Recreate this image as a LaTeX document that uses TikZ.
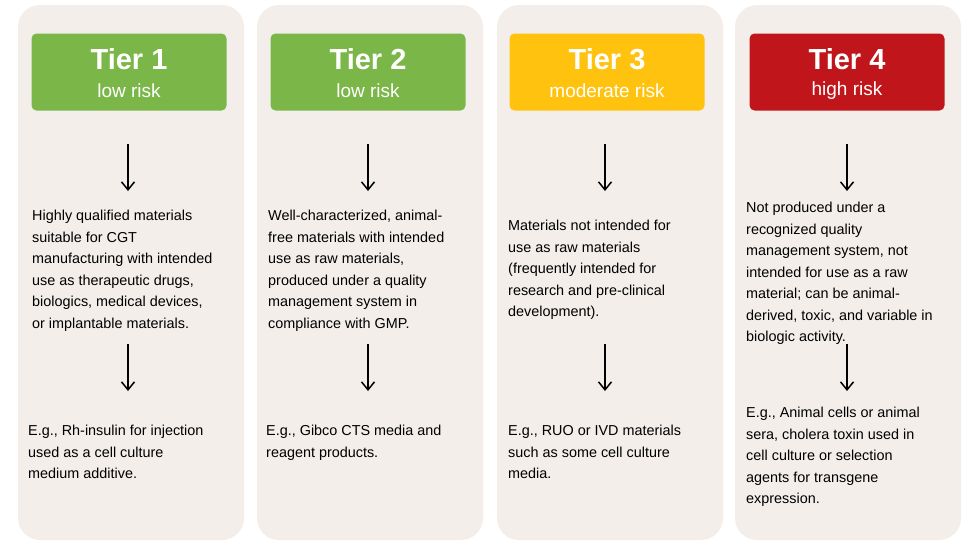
\documentclass[tikz,border=0pt]{standalone}
\usepackage{fontspec}
\setmainfont{Liberation Sans}
\usetikzlibrary{arrows.meta}
\begin{document}
\begin{tikzpicture}[x=1pt,y=-1pt,
  head/.style={rounded corners=5pt,draw=none,minimum width=195pt,minimum height=77pt,inner sep=0pt},
  tt/.style={text=white,inner sep=0pt,font=\fontsize{29}{33}\selectfont\bfseries},
  st/.style={text=white,inner sep=0pt,font=\fontsize{19}{22}\selectfont},
  body/.style={anchor=north west,align=left,inner sep=0pt,font=\fontsize{14.4}{21.5}\selectfont},
  arr/.style={-{Straight Barb[length=8pt,width=13pt]},line width=1.5pt}]
\definecolor{panel}{HTML}{F3EEEA}
\definecolor{g}{HTML}{7AB648}
\definecolor{y}{HTML}{FFC20E}
\definecolor{r}{HTML}{C0161B}
\useasboundingbox (0,0) rectangle (973,546);
\fill[white] (0,0) rectangle (973,546);
\foreach \x in {18,257,497,735}{\fill[panel,rounded corners=22pt] (\x,5) rectangle ++(226,535);}
\node[head,fill=g] (h1) at (129,72) {};
\node[head,fill=g] (h2) at (368,72) {};
\node[head,fill=y] (h3) at (607,72) {};
\node[head,fill=r] (h4) at (847,72) {};
\node[tt] (t1) at (129,59) {Tier 1}; \node[st] (s1) at (129,91) {low risk};
\node[tt] (t2) at (368,59) {Tier 2}; \node[st] (s2) at (368,91) {low risk};
\node[tt] (t3) at (607,59) {Tier 3}; \node[st] (s3) at (607,91) {moderate risk};
\node[tt] (t4) at (847,59) {Tier 4}; \node[st] (s4) at (847,91) {high risk};
\node[body] (b1) at (32,210) {Highly qualified materials\\suitable for CGT\\manufacturing with intended\\use as therapeutic drugs,\\biologics, medical devices,\\or implantable materials.};
\node[body] (b2) at (268,210) {Well-characterized, animal-\\free materials with intended\\use as raw materials,\\produced under a quality\\management system in\\compliance with GMP.};
\node[body] (b3) at (508,220) {Materials not intended for\\use as raw materials\\(frequently intended for\\research and pre-clinical\\development).};
\node[body] (b4) at (746,202) {Not produced under a\\recognized quality\\management system, not\\intended for use as a raw\\material; can be animal-\\derived, toxic, and variable in\\biologic activity.};
\node[body] (e1) at (28,425) {E.g., Rh-insulin for injection\\used as a cell culture\\medium additive.};
\node[body] (e2) at (266,425) {E.g., Gibco CTS media and\\reagent products.};
\node[body] (e3) at (508,425) {E.g., RUO or IVD materials\\such as some cell culture\\media.};
\node[body] (e4) at (746,407) {E.g., Animal cells or animal\\sera, cholera toxin used in\\cell culture or selection\\agents for transgene\\expression.};
\coordinate (a1) at (128,144); \coordinate (a1e) at (128,191);
\coordinate (a2) at (368,144); \coordinate (a2e) at (368,191);
\coordinate (a3) at (605,144); \coordinate (a3e) at (605,191);
\coordinate (a4) at (847,144); \coordinate (a4e) at (847,191);
\coordinate (c1) at (128,344); \coordinate (c1e) at (128,391);
\coordinate (c2) at (368,344); \coordinate (c2e) at (368,391);
\coordinate (c3) at (605,344); \coordinate (c3e) at (605,391);
\coordinate (c4) at (847,344); \coordinate (c4e) at (847,391);
\foreach \p in {a1,a2,a3,a4,c1,c2,c3,c4}{\draw[arr] (\p) -- (\p e);}
\end{tikzpicture}
\end{document}
